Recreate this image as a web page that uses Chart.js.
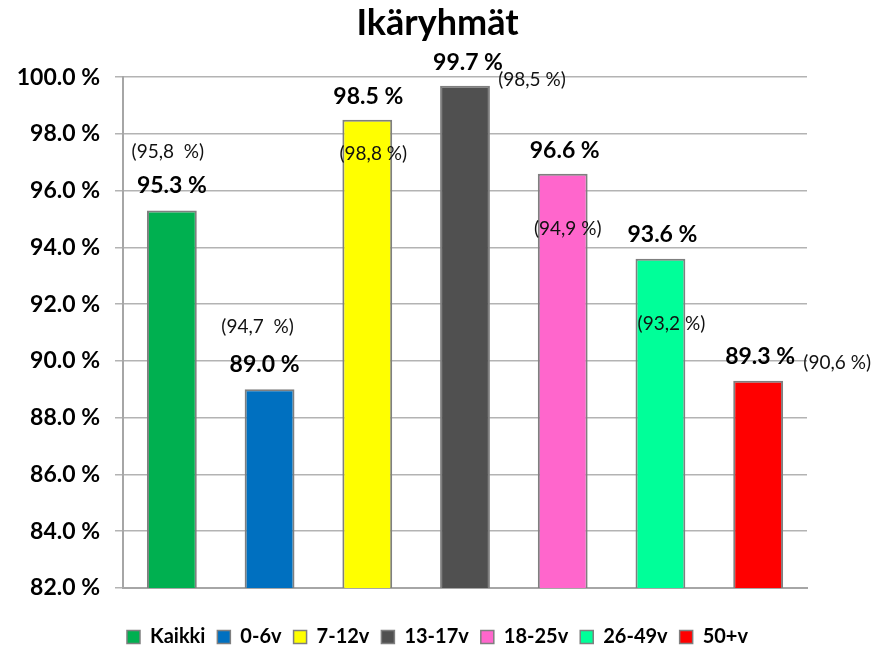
<!DOCTYPE html>
<html>
<head>
<meta charset="utf-8">
<script src="https://cdn.jsdelivr.net/npm/chart.js@4.4.1/dist/chart.umd.min.js"></script>
<style>
  html, body { margin: 0; padding: 0; background: #fff; }
  #wrap { width: 875px; height: 647px; }
</style>
</head>
<body>
<div id="wrap"><canvas id="c" width="875" height="647"></canvas></div>
<script>
// ---- data ----
const categories = ['Kaikki', '0-6v', '7-12v', '13-17v', '18-25v', '26-49v', '50+v'];
const values = [95.3, 89.0, 98.5, 99.7, 96.6, 93.6, 89.3];
const previousLabels = ['(95,8  %)', '(94,7  %)', '(98,8 %)', '(98,5 %)', '(94,9 %)', '(93,2 %)', '(90,6 %)'];
const yTicks = [82, 84, 86, 88, 90, 92, 94, 96, 98, 100];

// ---- styling ----
const colors = ['#00B050', '#0070C0', '#FFFF00', '#505050', '#FF66CC', '#00FF99', '#FF0000'];
// label offsets relative to bar top / centre (px)
const valueLabelOffset = [[0, -25], [-5, -25], [1, -23], [3, -23], [2, -23], [2, -24], [2, -24]];
const prevLabelOffset = [[-4, -59], [-12, -62], [6, 34], [67, -6], [5, 55], [11, 65], [79, -18]];

const FONT = 'Lato, "Open Sans", sans-serif';

const labelPlugin = {
  id: 'labels',
  afterDatasetsDraw(chart) {
    const ctx = chart.ctx;
    const meta = chart.getDatasetMeta(0);
    ctx.save();
    ctx.textAlign = 'center';
    ctx.textBaseline = 'middle';
    meta.data.forEach((bar, i) => {
      ctx.font = 'bold 23px ' + FONT;
      ctx.fillStyle = '#000';
      ctx.fillText(values[i].toFixed(1) + ' %', bar.x + valueLabelOffset[i][0], bar.y + valueLabelOffset[i][1]);
      ctx.font = '19px ' + FONT;
      ctx.fillStyle = '#111';
      ctx.fillText(previousLabels[i], bar.x + prevLabelOffset[i][0], bar.y + prevLabelOffset[i][1]);
    });
    ctx.restore();
  }
};

new Chart(document.getElementById('c'), {
  type: 'bar',
  data: {
    labels: categories,
    datasets: [{
      data: values,
      backgroundColor: colors,
      borderColor: '#7f7f7f',
      borderWidth: 2,
      borderSkipped: false,
      categoryPercentage: 1.0,
      barPercentage: 0.51
    }]
  },
  options: {
    responsive: false,
    animation: false,
    layout: { padding: { left: 0, right: 0, top: 0, bottom: -10 } },
    plugins: {
      title: {
        display: true,
        text: 'Ikäryhmät',
        color: '#000',
        font: { family: FONT, size: 36, weight: 'bold' },
        padding: { top: 2, bottom: 32 }
      },
      legend: {
        display: true,
        position: 'bottom',
        labels: {
          color: '#000',
          font: { family: FONT, size: 20, weight: 'bold' },
          boxWidth: 13,
          boxHeight: 13,
          padding: 12,
          generateLabels(chart) {
            return categories.map((c, i) => ({
              text: c,
              fillStyle: colors[i],
              strokeStyle: '#7f7f7f',
              lineWidth: 1.5,
              hidden: false,
              index: i,
              fontColor: '#000'
            }));
          }
        }
      },
      tooltip: { enabled: false }
    },
    scales: {
      x: {
        grid: { display: false },
        border: { display: true, color: '#a6a6a6', width: 2 },
        ticks: { display: false },
        afterFit(scale) { scale.height = 27; }
      },
      y: {
        min: 82,
        max: 100,
        afterBuildTicks(scale) { scale.ticks = yTicks.map(v => ({ value: v })); },
        grid: { color: '#b3b3b3', lineWidth: 1.5, tickLength: 8, drawTicks: true },
        border: { display: true, color: '#a6a6a6', width: 2 },
        ticks: {
          color: '#000',
          padding: 15,
          font: { family: FONT, size: 23, weight: 'bold' },
          callback: v => v.toFixed(1) + ' %'
        },
        afterFit(scale) { scale.width = 123; }
      },
      yRight: {
        position: 'right',
        min: 82,
        max: 100,
        grid: { display: false, drawOnChartArea: false },
        border: { display: false },
        ticks: { display: false },
        afterFit(scale) { scale.width = 68; }
      }
    }
  },
  plugins: [labelPlugin]
});
</script>
</body>
</html>
